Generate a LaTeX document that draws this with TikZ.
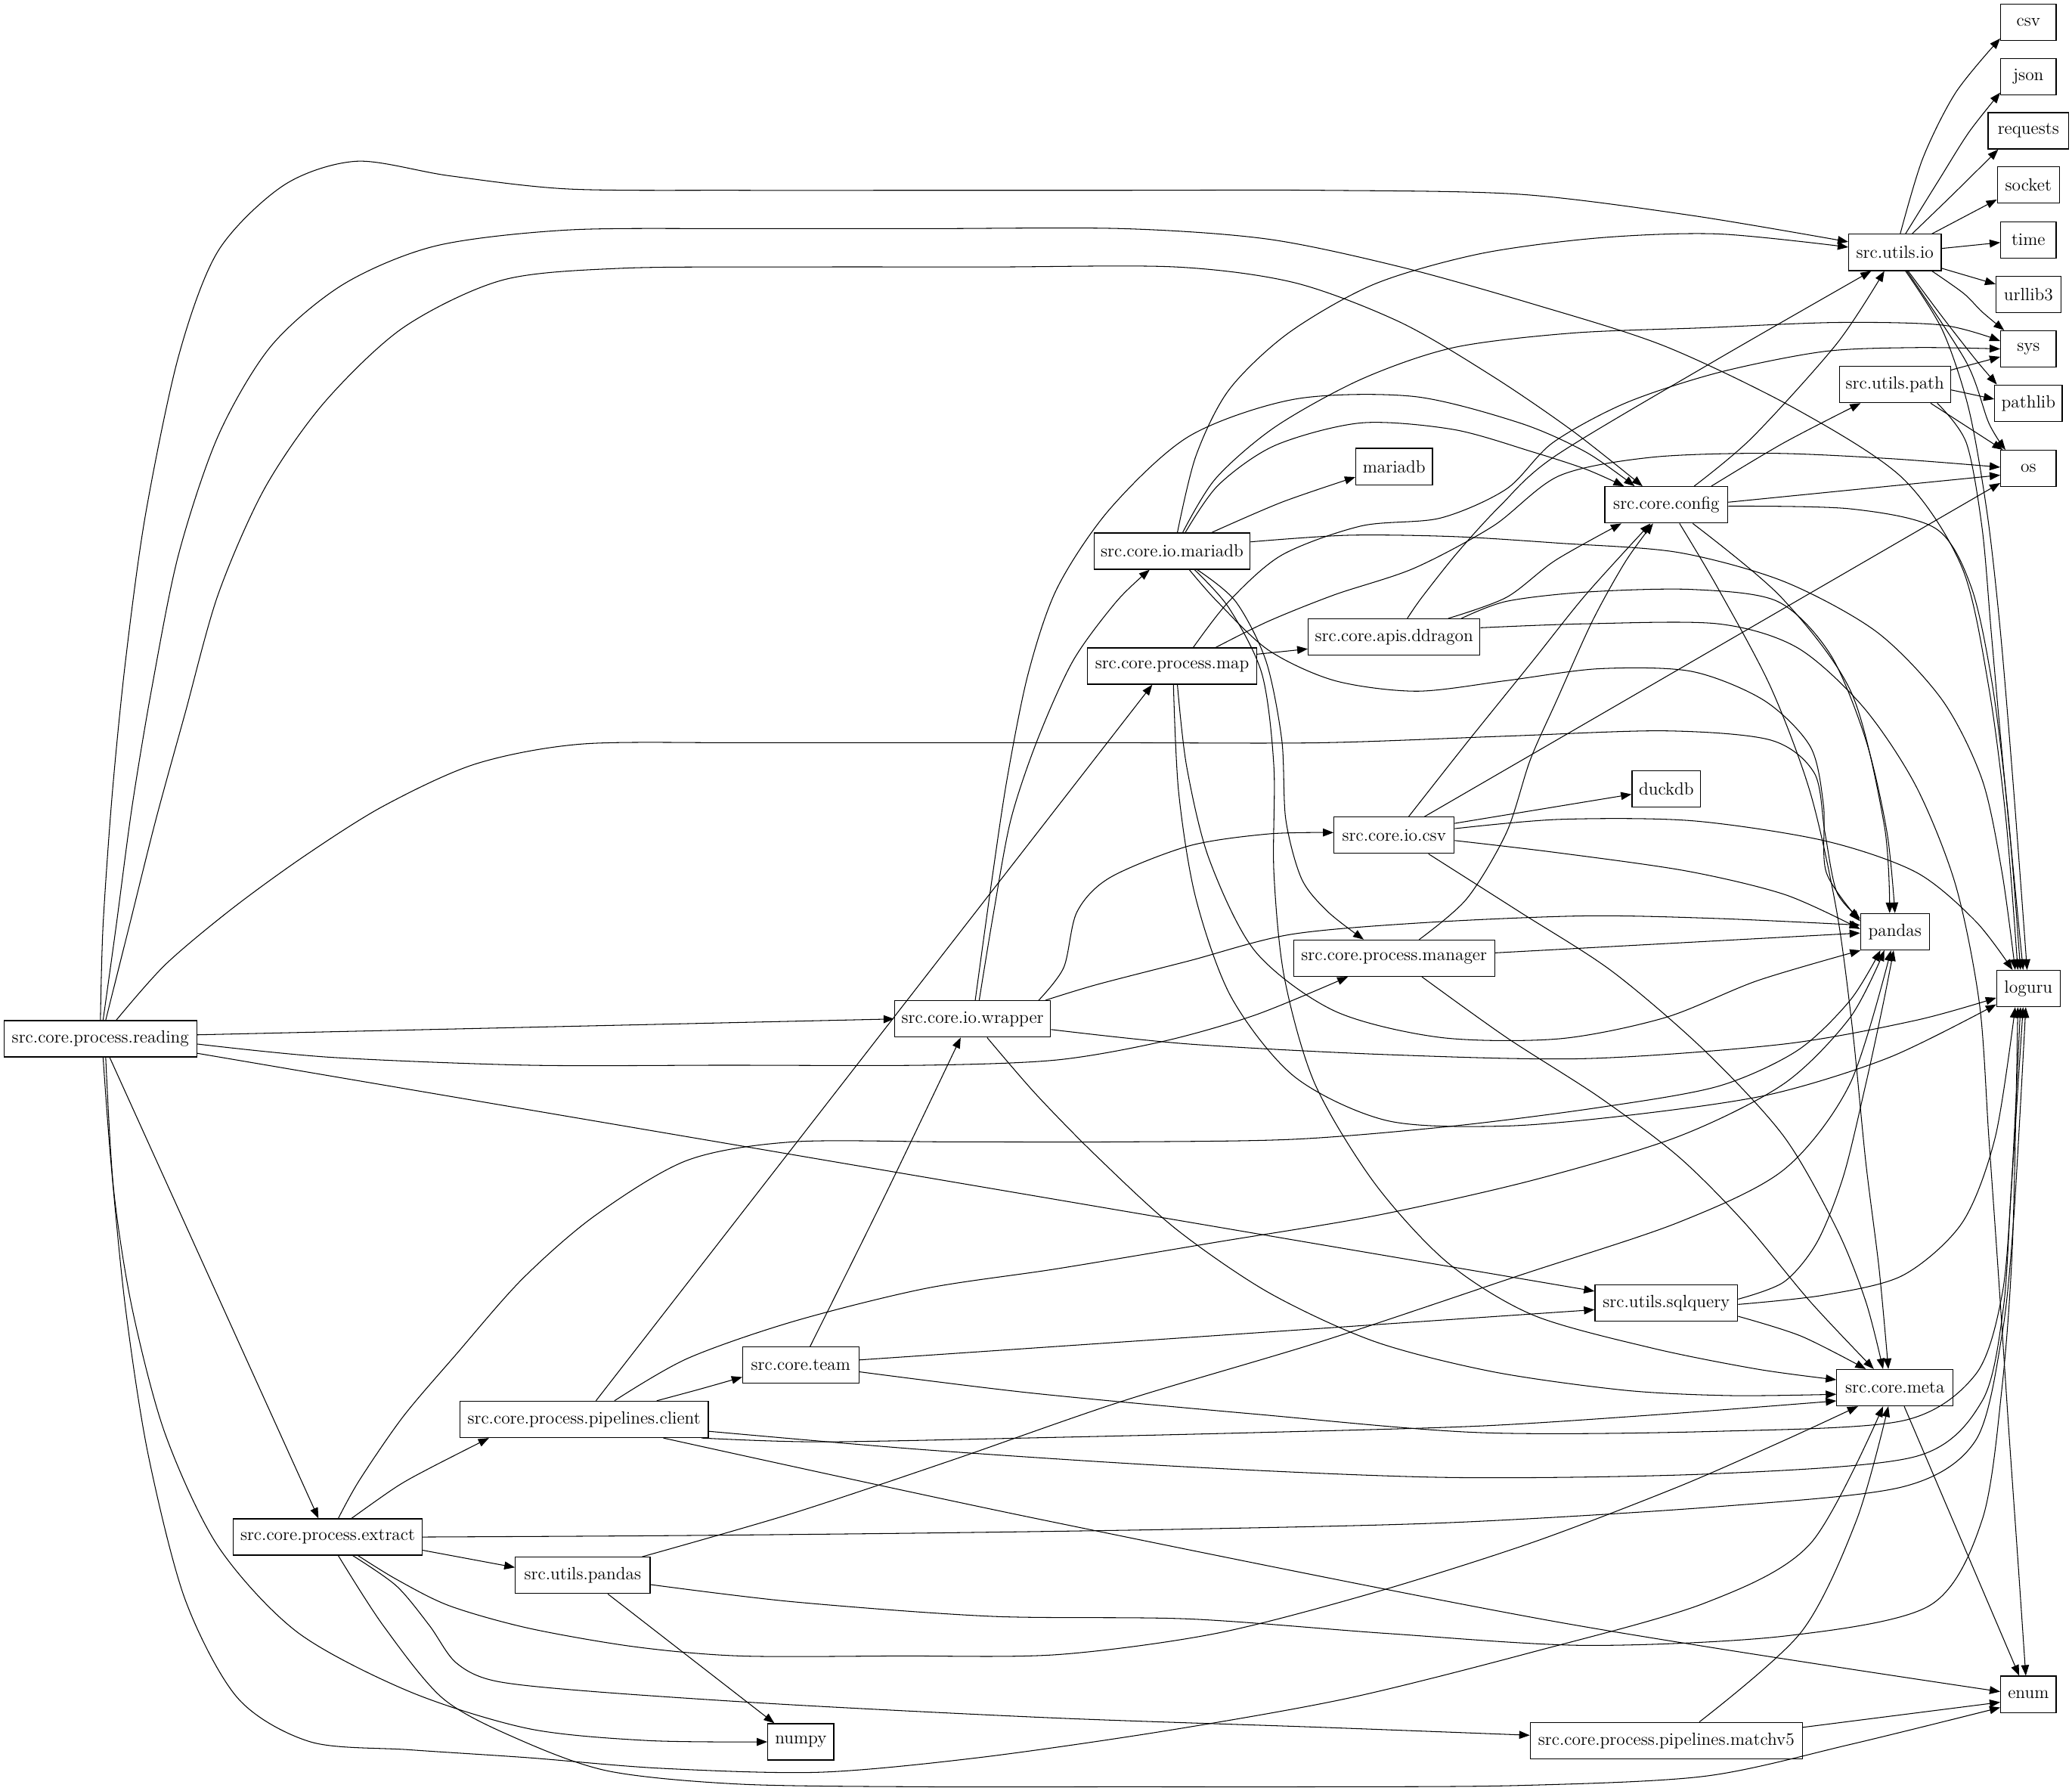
\documentclass[tikz,border=0pt]{standalone}
\usetikzlibrary{arrows.meta}
\newcommand\ed[1]{\draw[edge] plot[smooth,tension=0.5] coordinates {#1};}
\begin{document}
\begin{tikzpicture}[x=1pt,y=-1pt,
  box/.style={draw, line width=0.7pt, minimum height=27.5pt, inner sep=0pt, font=\fontsize{13.4}{15}\selectfont},
  edge/.style={-{Triangle[length=8pt,width=6pt]}, line width=0.6pt}]
\useasboundingbox (0,0) rectangle (1568,1355);
% external modules
\node[box, minimum width=42pt] (ncsv) at (1535,17) {csv};
\node[box, minimum width=42pt] (njson) at (1535,58) {json};
\node[box, minimum width=61pt] (nreq) at (1535,99) {requests};
\node[box, minimum width=47pt] (nsock) at (1535,140) {socket};
\node[box, minimum width=42pt] (ntime) at (1535,181.5) {time};
\node[box, minimum width=49pt] (nurl) at (1535,223) {urllib3};
\node[box, minimum width=42pt] (nsys) at (1535,264) {sys};
\node[box, minimum width=51pt] (npath) at (1535,305) {pathlib};
\node[box, minimum width=42pt] (nos) at (1535,354.5) {os};
\node[box, minimum width=58pt] (nmaria) at (1055,353) {mariadb};
\node[box, minimum width=52pt] (nduck) at (1261,597) {duckdb};
\node[box, minimum width=52pt] (npd) at (1434,705) {pandas};
\node[box, minimum width=48pt] (nlog) at (1535,748) {loguru};
\node[box, minimum width=42pt] (nenum) at (1535,1282) {enum};
\node[box, minimum width=50pt] (nnp) at (606,1318) {numpy};
% project modules
\node[box, minimum width=70pt] (uio) at (1434,191) {src.utils.io};
\node[box, minimum width=84pt] (upath) at (1434,291) {src.utils.path};
\node[box, minimum width=93pt] (cfg) at (1261,382) {src.core.config};
\node[box, minimum width=118pt] (mdb) at (887,417) {src.core.io.mariadb};
\node[box, minimum width=130pt] (dd) at (1055,482) {src.core.apis.ddragon};
\node[box, minimum width=128pt] (map) at (887,504) {src.core.process.map};
\node[box, minimum width=91pt] (csvio) at (1055,632) {src.core.io.csv};
\node[box, minimum width=152pt] (mgr) at (1055,725) {src.core.process.manager};
\node[box, minimum width=146pt] (rd) at (76,786) {src.core.process.reading};
\node[box, minimum width=118pt] (wr) at (736,771) {src.core.io.wrapper};
\node[box, minimum width=108pt] (sql) at (1261,986) {src.utils.sqlquery};
\node[box, minimum width=88pt] (team) at (606,1033) {src.core.team};
\node[box, minimum width=88pt] (meta) at (1434,1050) {src.core.meta};
\node[box, minimum width=188pt] (client) at (442,1074) {src.core.process.pipelines.client};
\node[box, minimum width=143pt] (ext) at (248,1163) {src.core.process.extract};
\node[box, minimum width=102pt] (upd) at (441,1192) {src.utils.pandas};
\node[box, minimum width=206pt] (mv5) at (1261,1317) {src.core.process.pipelines.matchv5};
% reading
\ed{(rd.north) (78,700) (85,600) (95,500) (110,390) (135,270) (165,190) (215,140) (270,122) (340,133) (430,143) (560,144) (700,144) (850,144) (1000,144) (1150,147) (1280,163) ([yshift=8pt]uio.west)}
\ed{([xshift=2pt]rd.north) (88,700) (100,610) (115,520) (135,420) (165,330) (205,262) (260,215) (330,186) (430,174) (560,173) (700,173) (850,173) (960,181) (1060,202) (1160,230) (1260,262) (1360,310) (1440,362) (1485,430) (1505,520) (1518,620) ([xshift=-8pt]nlog.north)}
\ed{([xshift=4pt]rd.north) (98,700) (118,620) (140,540) (165,450) (200,370) (245,305) (305,248) (380,212) (470,203) (600,202) (750,202) (890,202) (980,214) (1060,244) (1130,285) (1190,326) ([xshift=-18pt]cfg.north)}
\ed{([xshift=12pt]rd.north) (125,730) (175,688) (230,648) (290,610) (360,578) (440,563) (560,562) (700,562) (850,562) (1000,562) (1140,557) (1260,553) (1340,560) (1373,585) (1381,630) (1390,675) ([yshift=10pt]npd.west)}
\draw[edge] ([yshift=3pt]rd.east) -- (wr.west);
\ed{([yshift=-4pt]rd.east) (250,800) (400,806) (550,806) (700,806) (800,802) (880,788) (950,768) ([xshift=-35pt]mgr.south)}
\draw[edge] ([yshift=-11pt]rd.east) -- ([yshift=9pt]sql.west);
\draw[edge] ([xshift=7pt]rd.south) -- ([xshift=-7pt]ext.north);
\ed{([xshift=4pt]rd.south) (86,900) (100,990) (125,1085) (165,1170) (225,1235) (310,1280) (400,1308) (490,1317) (nnp.west)}
\ed{([xshift=2pt]rd.south) (84,880) (95,990) (112,1100) (140,1210) (180,1285) (235,1318) (310,1324) (400,1330) (500,1338) (620,1341) (740,1330) (880,1310) (1020,1285) (1160,1250) (1290,1213) (1370,1168) ([xshift=-9pt]meta.south)}
% extract
\ed{([xshift=18pt]ext.north) (300,1125) (325,1111) ([xshift=-72pt]client.south)}
\ed{([xshift=8pt]ext.north) (272,1120) (305,1072) (345,1025) (395,968) (450,920) (520,878) (600,864) (720,864) (850,864) (980,862) (1100,852) (1210,838) (1300,822) (1360,795) (1400,757) ([xshift=-11pt]npd.south)}
\ed{(ext.east) (500,1162) (700,1160) (900,1157) (1100,1152) (1300,1140) (1440,1125) (1495,1090) (1515,1010) (1524,920) ([xshift=-2pt]nlog.south)}
\draw[edge] ([yshift=-10pt]ext.east) -- ([yshift=6pt]upd.west);
\ed{([xshift=23pt]ext.south) (300,1195) (340,1215) (400,1232) (480,1246) (560,1253) (680,1253) (800,1252) (920,1236) (1040,1205) (1160,1167) (1270,1125) (1350,1090) ([xshift=-28pt]meta.south)}
\ed{([xshift=19pt]ext.south) (300,1200) (325,1230) (345,1258) (375,1272) (450,1280) (600,1290) (800,1300) (1000,1307) ([yshift=4pt]mv5.west)}
\ed{([xshift=8pt]ext.south) (290,1230) (335,1285) (390,1315) (460,1340) (560,1350) (700,1352) (850,1352) (1000,1352) (1150,1351) (1290,1344) (1400,1320) ([yshift=-10pt]nenum.west)}
% client
\draw[edge] ([xshift=9pt]client.north) -- ([xshift=-15pt]map.south);
\ed{([xshift=23pt]client.north) (520,1028) (600,1000) (700,975) (800,960) (920,940) (1040,920) (1160,893) (1270,860) (1350,820) (1400,770) ([xshift=-8pt]npd.south)}
\ed{([xshift=55pt]client.north) (530,1051) ([yshift=-9pt]team.west)}
\ed{([xshift=89pt]client.south) (620,1091) (780,1088) (950,1084) (1120,1079) (1260,1070) ([yshift=-10pt]meta.west)}
\ed{([yshift=-9pt]client.east) (700,1097) (900,1110) (1100,1118) (1300,1115) (1450,1102) (1500,1060) (1516,990) (1522,900) ([xshift=-4pt]nlog.south)}
\ed{([xshift=60pt]client.south) (784,1149) (1177,1227) ([yshift=2pt]nenum.west)}
% team
\ed{([xshift=7pt]team.north) (670,904) ([xshift=-9pt]wr.south)}
\draw[edge] ([yshift=4pt]team.east) -- ([yshift=-5pt]sql.west);
\ed{([yshift=-5pt]team.east) (780,1054) (950,1070) (1120,1084) (1300,1083) (1440,1075) (1495,1040) (1515,980) (1522,900) ([xshift=-6pt]nlog.south)}
% utils.pandas
\ed{([xshift=45pt]upd.north) (600,1145) (720,1105) (850,1060) (1000,1015) (1150,965) (1270,925) (1350,885) (1400,820) ([xshift=-3pt]npd.south)}
\ed{([yshift=-7pt]upd.east) (600,1212) (750,1223) (900,1225) (1050,1236) (1200,1245) (1350,1238) (1460,1215) (1500,1150) (1515,1050) (1523,940) ([xshift=-8pt]nlog.south)}
\draw[edge] ([xshift=19pt]upd.south) -- ([xshift=-20pt]nnp.north);
% matchv5, meta
\ed{([xshift=25pt]mv5.north) (1363,1235) (1405,1150) ([xshift=-5pt]meta.south)}
\draw[edge] ([yshift=10pt]mv5.east) -- ([yshift=-6pt]nenum.west);
\draw[edge] ([xshift=7pt]meta.south) -- ([xshift=-7pt]nenum.north);
% sqlquery
\ed{([yshift=3pt]sql.east) (1350,970) (1375,940) (1395,890) (1412,820) (1425,760) ([xshift=-1pt]npd.south)}
\ed{([yshift=-1pt]sql.east) (1380,980) (1440,965) (1485,925) (1510,860) ([xshift=-10pt]nlog.south)}
\ed{([yshift=-10pt]sql.east) (1363,1011) ([xshift=-22pt]meta.north)}
% manager
\ed{([xshift=19pt]mgr.north) (1110,680) (1140,630) (1158,575) (1178,530) (1205,470) (1230,425) ([xshift=-10pt]cfg.south)}
\draw[edge] ([yshift=4pt]mgr.east) -- ([yshift=-1pt]npd.west);
\ed{([xshift=21pt]mgr.south) (1140,785) (1210,830) (1270,875) (1320,925) (1370,985) ([xshift=-16pt]meta.north)}
% io.csv
\ed{([xshift=11pt]csvio.north) (1110,562) (1160,500) (1200,450) ([xshift=-12pt]cfg.south)}
\draw[edge] ([xshift=23pt]csvio.north) -- ([yshift=-11pt]nos.west);
\draw[edge] ([yshift=9pt]csvio.east) -- ([yshift=-4pt]nduck.west);
\ed{([yshift=5pt]csvio.east) (1180,620) (1280,621) (1380,636) (1450,660) (1495,697) ([xshift=-12pt]nlog.north)}
\ed{([yshift=-4pt]csvio.east) (1177,645) (1276,659) (1351,677) ([yshift=2pt]npd.west)}
\ed{([xshift=26pt]csvio.south) (1150,690) (1220,735) (1290,795) (1350,860) (1390,930) (1412,985) ([xshift=-9pt]meta.north)}
% ddragon
\ed{([xshift=10pt]dd.north) (1076,452) (1103,418) (1135,383) (1177,345) (1296,274) ([xshift=-18pt]uio.south)}
\ed{([xshift=41pt]dd.north) (1140,452) (1177,424) ([xshift=-34pt]cfg.south)}
\ed{([xshift=51pt]dd.north) (1140,455) (1200,448) (1280,446) (1345,455) (1385,495) (1412,560) (1428,630) (npd.north)}
\ed{([yshift=7pt]dd.east) (1200,472) (1300,472) (1360,490) (1410,535) (1450,595) (1480,670) (1498,760) (1505,860) (1512,960) (1520,1080) (1527,1180) ([xshift=-2pt]nenum.north)}
% process.map
\draw[edge] ([yshift=9pt]map.east) -- ([yshift=-9pt]dd.west);
\ed{([xshift=16pt]map.north) (930,455) (970,420) (1030,398) (1090,392) (1140,370) (1175,335) (1230,305) (1300,282) (1380,266) (1450,263) (nsys.west)}
\ed{([xshift=33pt]map.north) (960,470) (1010,450) (1070,430) (1130,398) (1180,360) (1250,346) (1340,343) (1430,347) ([yshift=1pt]nos.west)}
\ed{([xshift=4pt]map.south) (898,580) (915,650) (950,720) (1010,765) (1090,785) (1180,786) (1260,770) (1330,742) ([xshift=-26pt]npd.south)}
\ed{([xshift=1pt]map.south) (892,600) (905,680) (932,755) (980,815) (1050,848) (1140,852) (1240,843) (1340,828) (1430,800) ([yshift=-12pt]nlog.west)}
% io.mariadb
\ed{([xshift=4pt]mdb.north) (905,345) (930,295) (975,252) (1040,215) (1120,192) (1210,180) (1300,177) ([yshift=4pt]uio.west)}
\ed{([xshift=8pt]mdb.north) (920,362) (965,323) (1030,287) (1100,263) (1190,252) (1290,248) (1390,244) (1470,246) ([yshift=6pt]nsys.west)}
\ed{([xshift=10pt]mdb.north) (922,367) (965,337) (1030,320) (1100,325) (1160,342) (1200,355) ([xshift=-32pt]cfg.north)}
\ed{([xshift=30pt]mdb.north) (970,380) ([yshift=-8pt]nmaria.west)}
\ed{([yshift=7pt]mdb.east) (1020,405) (1100,406) (1180,411) (1270,418) (1350,440) (1420,478) (1470,530) (1500,590) (1515,660) ([xshift=-10pt]nlog.north)}
\ed{([xshift=13pt]mdb.south) (921,455) (960,492) (1010,515) (1072,523) (1140,515) (1210,506) (1280,508) (1335,530) (1370,565) (1380,610) (1382,660) ([yshift=8pt]npd.west)}
\ed{([xshift=19pt]mdb.south) (935,455) (958,500) (970,560) (973,620) (985,665) (1005,690) ([xshift=-23pt]mgr.north)}
\ed{([xshift=17pt]mdb.south) (930,460) (955,510) (964,580) (964,660) (972,740) (995,820) (1040,895) (1095,955) (1160,995) (1250,1020) (1330,1036) ([yshift=6pt]meta.west)}
% io.wrapper
\ed{([xshift=2pt]wr.north) (750,670) (762,590) (778,510) (800,445) (840,385) (900,330) (980,302) (1070,300) (1150,320) (1200,342) ([xshift=-24pt]cfg.north)}
\ed{([xshift=5pt]wr.north) (752,690) (765,620) (785,560) (812,500) (845,455) ([xshift=-17pt]mdb.south)}
\ed{([xshift=50pt]wr.north) (805,732) (815,690) (840,664) (900,640) (960,631) ([yshift=2pt]csvio.west)}
\ed{([xshift=55pt]wr.north) (830,745) (900,727) (977,707) (1080,698) (1200,693) (1300,695) ([yshift=5pt]npd.west)}
\ed{([yshift=-8pt]wr.east) (900,790) (1050,798) (1200,801) (1350,790) (1450,772) ([yshift=-7pt]nlog.west)}
\ed{([xshift=11pt]wr.south) (784,828) (830,875) (890,930) (960,978) (1040,1015) (1130,1038) (1230,1052) (1310,1056) ([yshift=-5pt]meta.west)}
% config
\ed{([xshift=21pt]cfg.north) (1326,331) (1390,260) ([xshift=-8pt]uio.south)}
\ed{([xshift=34pt]cfg.north) (1350,335) ([xshift=-26pt]upath.south)}
\draw[edge] ([yshift=2pt]cfg.east) -- ([yshift=-5pt]nos.west);
\ed{([yshift=-1pt]cfg.east) (1400,385) (1465,400) (1492,445) (1508,520) (1520,620) ([xshift=-6pt]nlog.north)}
\ed{([xshift=10pt]cfg.south) (1300,445) (1340,520) (1370,600) (1390,690) (1402,780) (1412,880) (1422,960) ([xshift=-5pt]meta.north)}
\ed{([xshift=20pt]cfg.south) (1348,452) (1401,524) (1426,625) ([xshift=-4pt]npd.north)}
% utils.path
\draw[edge] ([yshift=11pt]upath.east) -- ([yshift=-6pt]nsys.west);
\draw[edge] ([yshift=-4pt]upath.east) -- ([yshift=3pt]npath.west);
\draw[edge] ([xshift=27pt]upath.south) -- ([xshift=2pt]nos.north west);
\ed{([xshift=32pt]upath.south) (1488,335) (1500,400) (1507,480) (1516,580) ([xshift=-4pt]nlog.north)}
% utils.io
\ed{([xshift=4pt]uio.north) (1455,120) (1480,70) ([yshift=2pt]ncsv.south west)}
\ed{([xshift=8pt]uio.north) (1468,135) (1490,100) ([yshift=2pt]njson.south west)}
\ed{([xshift=13pt]uio.north) (1480,145) ([xshift=8pt]nreq.south west)}
\draw[edge] ([xshift=28pt]uio.north) -- ([yshift=-11pt]nsock.west);
\draw[edge] ([yshift=3pt]uio.east) -- ([yshift=-2pt]ntime.west);
\draw[edge] ([yshift=-12pt]uio.east) -- ([yshift=8pt]nurl.west);
\ed{([xshift=28pt]uio.south) (1486,222) (1500,236) ([xshift=3pt]nsys.north west)}
\ed{([xshift=10pt]uio.south) (1470,240) (1495,272) ([xshift=2pt]npath.north west)}
\ed{([xshift=9pt]uio.south) (1488,274) (1505,320) ([xshift=4pt]nos.north west)}
\ed{([xshift=8pt]uio.south) (1470,250) (1490,310) (1504,390) (1514,480) (1524,600) ([xshift=-1pt]nlog.north)}
\end{tikzpicture}
\end{document}
